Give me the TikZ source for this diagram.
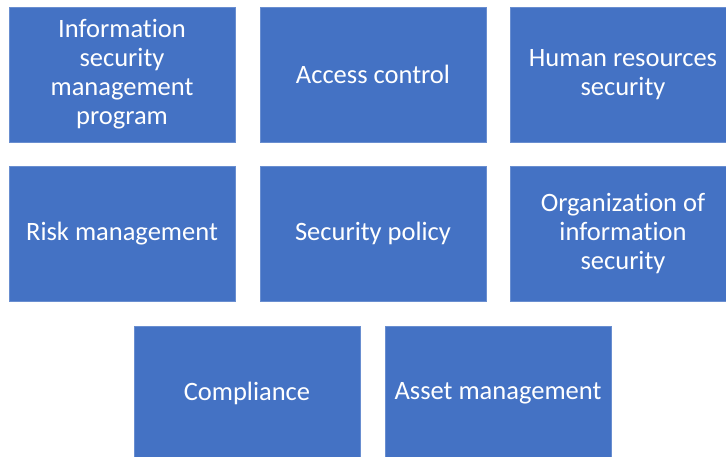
\documentclass[tikz,border=0pt]{standalone}
\usepackage{fontspec}
\setmainfont{Carlito}[Ligatures=NoCommon]
\usetikzlibrary{positioning}
\definecolor{boxblue}{RGB}{68,114,196}
\tikzset{%
    topicbox/.style={fill=boxblue, draw=boxblue!80!white, line width=0.6pt,
        minimum width=226pt, minimum height=135pt, inner sep=0pt, outer sep=0pt,
        align=center, text=white, font=\fontsize{26.5}{29}\selectfont},
}

\begin{document}
\begin{tikzpicture}[x=1pt,y=-1pt, node distance=24pt and 25pt]
\useasboundingbox (0,0) rectangle (726,457);
\node (ismp) [topicbox] at (122,74.5) {Information\\security\\management\\program};
\node (access) [topicbox, right=of ismp] {Access control};
\node (hr) [topicbox, right=24pt of access] {Human resources\\security};
\node (risk) [topicbox, below=of ismp] {Risk management};
\node (policy) [topicbox, below=of access] {Security policy};
\node (org) [topicbox, below=of hr] {Organization of\\information\\security};
\node (compliance) [topicbox, anchor=north west] at (134,326) {Compliance};
\node (asset) [topicbox, right=of compliance] {Asset management};
\end{tikzpicture}
\end{document}
